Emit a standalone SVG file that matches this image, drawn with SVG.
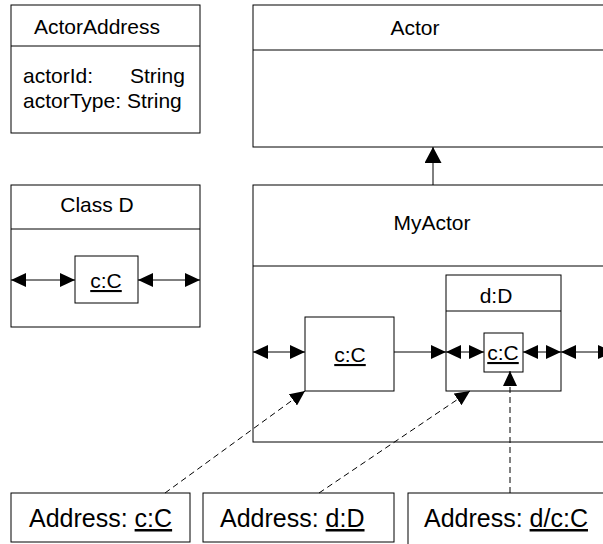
<svg xmlns="http://www.w3.org/2000/svg" width="603" height="544" viewBox="0 0 603 544">
<defs>
<style>
.box{fill:#fff;stroke:#000;stroke-width:1}
.ln{fill:none;stroke:#000;stroke-width:1}
.t{font-family:"Liberation Sans",Arial,sans-serif;font-size:21px;fill:#000}
.m{text-anchor:middle}
.a{font-family:"Liberation Sans",Arial,sans-serif;font-size:25px;fill:#000}
.u{text-decoration:underline}
.c{fill:none;stroke:#000;stroke-width:1}
.d{fill:none;stroke:#000;stroke-width:1;stroke-dasharray:6,4}
</style>
<marker id="ah" viewBox="0 0 15 14" refX="15" refY="7" markerWidth="15" markerHeight="14" markerUnits="userSpaceOnUse" orient="auto-start-reverse"><path d="M0,0 L15,7 L0,14 z" fill="#000"/></marker>
<marker id="gen" viewBox="0 0 16 17" refX="16" refY="8.5" markerWidth="16" markerHeight="17" markerUnits="userSpaceOnUse" orient="auto"><path d="M0,0 L16,8.5 L0,17 z" fill="#000"/></marker>
</defs>
<rect width="603" height="544" fill="#fff"/>

<g id="ActorAddress">
<rect class="box" x="11" y="5" width="189" height="128"/>
<line class="ln" x1="11" y1="46" x2="200" y2="46"/>
<text class="t m" x="97" y="34">ActorAddress</text>
<text class="t" x="23" y="83">actorId:</text>
<text class="t" x="130" y="83">String</text>
<text class="t" x="23" y="108">actorType: String</text>
</g>

<g id="ClassD">
<rect class="box" x="11" y="185" width="189" height="142"/>
<line class="ln" x1="11" y1="229" x2="200" y2="229"/>
<text class="t m" x="97" y="212">Class D</text>
<g id="ClassD_cC">
<rect class="box" x="75" y="256" width="63" height="47"/>
<text class="t m u" x="106" y="288">c:C</text>
</g>
</g>

<g id="Actor">
<rect class="box" x="253" y="5" width="362" height="142"/>
<line class="ln" x1="253" y1="50" x2="615" y2="50"/>
<text class="t m" x="415" y="35">Actor</text>
</g>

<g id="MyActor">
<rect class="box" x="253" y="185" width="362" height="257"/>
<line class="ln" x1="253" y1="266" x2="615" y2="266"/>
<text class="t m" x="432" y="230">MyActor</text>
</g>

<g id="MyActor_cC">
<rect class="box" x="305" y="317" width="89" height="74"/>
<text class="t m u" x="350" y="362">c:C</text>
</g>

<g id="MyActor_dD">
<rect class="box" x="446" y="275" width="115" height="116"/>
<line class="ln" x1="446" y1="311" x2="561" y2="311"/>
<text class="t m" x="496" y="303">d:D</text>
</g>

<g id="dD_cC">
<rect class="box" x="484" y="333" width="39" height="39"/>
<text class="t m u" x="503" y="360">c:C</text>
</g>

<g id="Address_cC">
<rect class="box" x="11" y="493" width="179" height="49"/>
<text class="a" x="29" y="527">Address: <tspan class="u">c:C</tspan></text>
</g>

<g id="Address_dD">
<rect class="box" x="203" y="493" width="191" height="49"/>
<text class="a" x="220" y="527">Address: <tspan class="u">d:D</tspan></text>
</g>

<g id="Address_dcC">
<rect class="box" x="408" y="493" width="210" height="60"/>
<text class="a" x="424" y="527">Address: <tspan class="u">d/c:C</tspan></text>
</g>

<g id="connectors">
<line class="c" x1="433" y1="185" x2="433" y2="147" marker-end="url(#gen)"/>
<line class="c" x1="11" y1="280" x2="75" y2="280" marker-start="url(#ah)" marker-end="url(#ah)"/>
<line class="c" x1="138" y1="280" x2="200" y2="280" marker-start="url(#ah)" marker-end="url(#ah)"/>
<line class="c" x1="253" y1="352" x2="305" y2="352" marker-start="url(#ah)" marker-end="url(#ah)"/>
<line class="c" x1="394" y1="352" x2="446" y2="352" marker-end="url(#ah)"/>
<line class="c" x1="446" y1="352" x2="484" y2="352" marker-start="url(#ah)" marker-end="url(#ah)"/>
<line class="c" x1="523" y1="352" x2="561" y2="352" marker-start="url(#ah)" marker-end="url(#ah)"/>
<line class="c" x1="561" y1="352" x2="613" y2="352" marker-start="url(#ah)" marker-end="url(#ah)"/>
<line class="d" x1="165" y1="493" x2="305" y2="391" marker-end="url(#ah)"/>
<line class="d" x1="319" y1="493" x2="470" y2="391" marker-end="url(#ah)"/>
<line class="d" x1="510" y1="493" x2="510" y2="371" marker-end="url(#ah)"/>
</g>
</svg>
